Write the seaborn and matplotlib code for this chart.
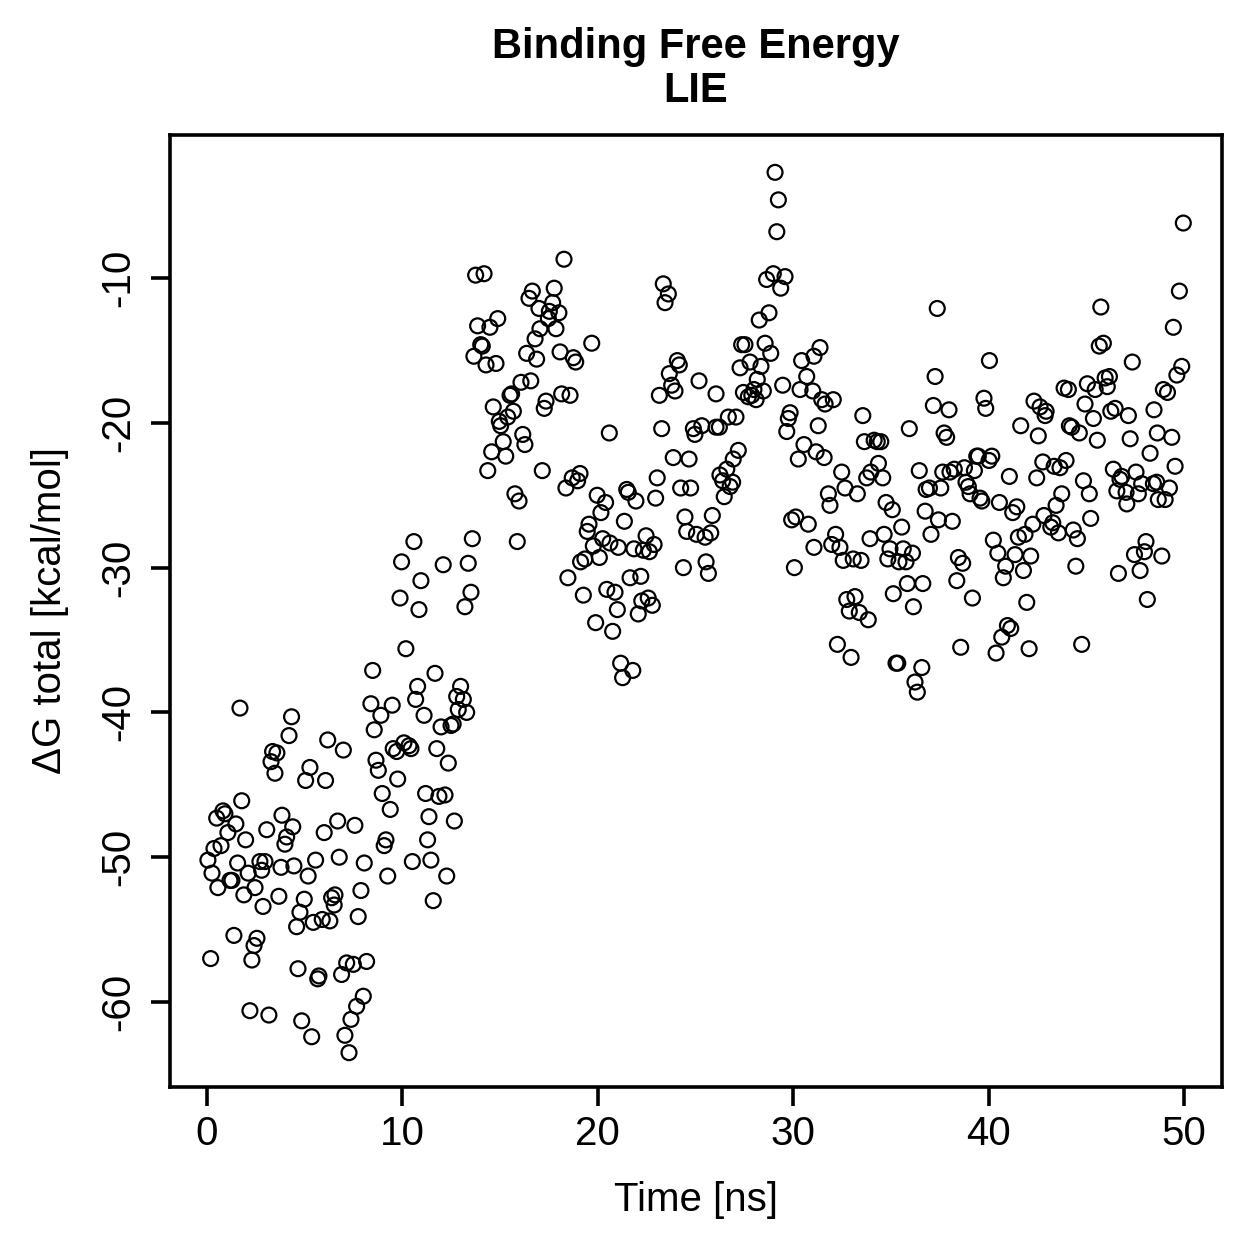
import numpy as np
import pandas as pd
import matplotlib
matplotlib.use("Agg")
import matplotlib.pyplot as plt
import seaborn as sns

# ---- data (time in ns, dG in kcal/mol) ----
time_ns = [
    # 0-5 ns
    1.69, 4.33, 4.20, 3.36, 3.58, 3.28, 3.48, 1.78, 0.82, 0.92, 0.50, 1.48, 3.84, 4.39, 3.06, 1.07,
    4.08, 1.98, 3.99, 0.72, 0.36, 0.05, 1.57, 2.71, 2.97, 2.80, 3.79, 4.45, 2.11, 0.26, 1.18, 1.28,
    0.56, 2.46, 1.89, 3.68, 2.87, 4.98, 4.76, 4.59, 1.38, 2.56, 2.41, 0.19, 2.30, 4.66, 2.20, 3.17, 4.85,
    # 5-10 ns
    8.48, 8.39, 9.48, 8.90, 8.56, 6.18, 6.98, 9.53, 9.71, 8.65, 8.77, 5.27, 5.05, 6.07, 9.76, 8.97,
    9.38, 6.69, 7.57, 6.00, 9.16, 9.07, 5.56, 6.77, 8.05, 5.18, 9.25, 6.55, 6.38, 6.51, 7.88, 5.44,
    5.90, 6.29, 7.74, 5.73, 5.67, 6.89, 7.15, 7.49, 8.17, 8.00, 7.66, 7.37, 5.36, 7.06, 7.27,
    # 10-14 ns
    10.59, 13.58, 9.96, 12.09, 13.37, 10.95, 9.88, 10.85, 13.51, 13.20, 10.18, 11.67, 10.78, 10.68,
    12.98, 12.78, 13.12, 12.86, 13.29, 11.11, 11.98, 12.49, 12.60, 10.08, 10.34, 10.44, 11.76, 12.35,
    11.19, 11.87, 12.18, 11.36, 12.66, 11.29, 10.51, 11.46, 12.27, 11.58,
    # 13-20 ns
    18.27, 13.75, 14.18, 16.65, 17.77, 16.48, 16.99, 17.69, 17.52, 18.01, 14.88, 13.85, 14.48, 17.47,
    17.04, 17.86, 16.79, 14.01, 14.09, 13.66, 14.28, 14.79, 16.36, 16.87, 18.07, 18.75, 18.87, 19.69,
    16.07, 16.57, 15.51, 15.59, 18.15, 18.58, 14.65, 17.35, 17.26, 15.68, 15.39, 14.96, 15.03, 16.16,
    16.27, 15.16, 14.57, 15.29, 14.37, 17.16, 18.69, 19.09, 18.97, 18.37, 15.76, 15.97, 15.88,
    # 18-25 ns
    24.07, 24.17, 23.66, 23.78, 23.95, 23.15, 20.59, 23.27, 23.86, 24.67, 21.48, 21.56, 21.95, 23.04,
    22.96, 24.24, 24.75, 19.97, 20.40, 20.16, 21.36, 24.46, 19.55, 19.46, 24.55, 20.25, 20.62, 21.05,
    19.77, 22.47, 22.88, 21.85, 22.33, 22.64, 20.08, 19.34, 19.12, 24.38, 18.47, 21.65, 22.20, 20.46,
    20.88, 19.26, 22.58, 22.25, 22.79, 21.00, 22.07, 19.89, 20.76, 21.17, 21.79, 21.27,
    23.35, 23.61, 23.44,
    # 25-31 ns
    29.07, 29.24, 29.16, 28.98, 28.64, 29.58, 29.36, 28.76, 28.26, 27.36, 27.53, 28.56, 28.85, 30.43,
    27.79, 27.28, 28.35, 30.69, 28.16, 25.18, 26.05, 27.45, 27.70, 27.88, 27.99, 28.10, 28.47, 29.46,
    30.35, 29.84, 29.75, 29.67, 30.55, 30.26, 26.68, 27.07, 24.89, 25.32, 24.97, 26.05, 26.22, 27.19,
    26.93, 26.60, 26.25, 26.39, 26.90, 26.77, 26.47, 25.86, 25.05, 25.49, 25.78, 25.54, 25.66, 30.06, 29.92,
    # 30-37 ns
    31.37, 31.06, 31.00, 31.46, 31.63, 32.05, 31.28, 33.56, 35.94, 31.17, 31.58, 33.64, 34.14, 34.30,
    34.48, 34.36, 33.97, 33.76, 34.58, 32.48, 36.45, 32.65, 33.28, 31.80, 31.88, 34.75, 35.07, 30.13,
    30.77, 35.55, 32.17, 31.97, 32.39, 33.93, 34.65, 31.06, 34.95, 35.63, 36.10, 34.84, 35.41, 35.77,
    32.56, 33.07, 33.47, 35.84, 36.63, 35.12, 36.15, 32.74, 33.16, 32.87, 33.38, 33.84, 32.26, 32.96,
    35.26, 35.35, 36.58, 36.23, 36.35,
    # 37-43 ns
    37.37, 40.04, 37.26, 37.17, 37.97, 39.76, 39.85, 42.32, 42.63, 42.94, 42.89, 41.64, 42.54, 37.72,
    37.85, 37.65, 38.02, 38.24, 38.76, 39.27, 39.39, 39.47, 40.02, 40.16, 41.06, 42.46, 42.77, 36.80,
    36.97, 37.55, 38.84, 38.96, 39.05, 39.56, 39.65, 40.55, 41.23, 41.44, 36.75, 37.43, 38.14, 37.05,
    42.83, 42.26, 41.52, 41.86, 40.24, 40.47, 41.35, 42.15, 40.87, 41.78, 40.75, 38.45, 38.67, 38.37,
    39.17, 41.95, 40.96, 41.13, 40.67, 38.57, 40.38, 42.07,
    # 43-50 ns
    49.96, 49.76, 45.74, 49.45, 45.66, 45.87, 47.35, 49.88, 49.63, 43.86, 44.08, 45.05, 45.45, 45.96,
    46.18, 46.07, 48.94, 49.15, 44.93, 45.36, 46.25, 46.47, 47.15, 48.46, 44.13, 44.25, 44.64, 45.56,
    47.24, 48.63, 49.37, 48.26, 49.54, 43.35, 43.65, 43.96, 44.85, 46.38, 46.81, 46.72, 47.54, 47.83,
    48.43, 48.60, 49.25, 46.56, 47.03, 47.66, 48.68, 49.03, 47.07, 43.74, 45.15, 43.45, 43.28, 43.18,
    43.57, 44.33, 44.54, 45.22, 48.05, 47.97, 47.46, 48.86, 44.46, 46.64, 47.75, 48.12, 44.76,
]

dg_total = [
    # 0-5 ns
    -39.7, -40.3, -41.6, -42.7, -42.8, -43.4, -44.2, -46.1, -46.8, -47.0, -47.3, -47.7, -47.1, -47.9, -48.1, -48.3,
    -48.6, -48.8, -49.1, -49.2, -49.4, -50.2, -50.4, -50.3, -50.3, -50.9, -50.7, -50.6, -51.1, -51.1, -51.6, -51.6,
    -52.1, -52.1, -52.6, -52.7, -53.4, -52.9, -53.8, -54.8, -55.4, -55.6, -56.1, -57.0, -57.1, -57.7, -60.6, -60.9, -61.3,
    # 5-10 ns
    -37.1, -39.4, -39.5, -40.2, -41.2, -41.9, -42.6, -42.5, -42.7, -43.3, -44.0, -43.8, -44.7, -44.7, -44.6, -45.6,
    -46.7, -47.5, -47.8, -48.3, -48.8, -49.2, -50.2, -50.0, -50.4, -51.3, -51.3, -52.6, -52.8, -53.3, -52.3, -54.5,
    -54.3, -54.4, -54.1, -58.2, -58.4, -58.1, -57.3, -57.4, -57.2, -59.6, -60.3, -61.2, -62.4, -62.3, -63.5,
    # 10-14 ns
    -28.2, -28.0, -29.6, -29.8, -29.7, -30.9, -32.1, -32.9, -31.7, -32.7, -35.6, -37.3, -38.2, -39.1,
    -38.2, -38.9, -39.1, -39.8, -40.0, -40.2, -41.0, -40.9, -40.8, -42.1, -42.3, -42.5, -42.5, -43.5,
    -45.6, -45.8, -45.7, -47.2, -47.5, -48.8, -50.3, -50.2, -51.3, -53.0,
    # 13-20 ns
    -8.7, -9.8, -9.7, -10.9, -10.7, -11.4, -12.1, -11.7, -12.3, -12.4, -12.8, -13.3, -13.4, -12.8,
    -13.5, -13.5, -14.2, -14.6, -14.7, -15.4, -16.0, -15.9, -15.2, -15.6, -15.1, -15.5, -15.8, -14.5,
    -17.2, -17.1, -18.1, -18.0, -18.0, -18.1, -18.9, -18.5, -19.0, -19.2, -19.6, -19.9, -20.2, -20.8,
    -21.5, -21.3, -22.0, -22.3, -23.3, -23.3, -23.8, -23.5, -24.0, -24.5, -24.9, -25.4, -28.2,
    # 18-25 ns
    -15.7, -16.0, -16.6, -17.4, -17.8, -18.1, -20.7, -20.4, -22.4, -22.5, -24.6, -24.8, -25.4, -23.8,
    -25.2, -24.5, -24.5, -25.0, -25.5, -26.2, -26.8, -26.5, -27.0, -27.5, -27.5, -28.0, -28.3, -28.6,
    -28.5, -27.8, -28.4, -28.7, -28.8, -28.9, -29.3, -29.4, -29.6, -30.0, -30.7, -30.7, -30.6, -31.5,
    -31.7, -31.9, -32.1, -32.3, -32.6, -32.9, -33.2, -33.8, -34.4, -36.6, -37.1, -37.6,
    -10.4, -11.1, -11.7,
    # 25-31 ns
    -2.7, -4.6, -6.8, -9.7, -10.1, -9.9, -10.7, -12.4, -12.9, -14.6, -14.6, -14.5, -15.2, -15.7,
    -15.8, -16.2, -16.1, -16.8, -17.0, -17.1, -18.0, -17.9, -18.2, -18.1, -17.7, -18.4, -17.8, -17.4,
    -17.7, -19.3, -19.7, -20.6, -21.5, -22.5, -19.6, -19.6, -20.4, -20.2, -20.8, -20.3, -20.3, -21.9,
    -22.5, -23.2, -23.6, -24.0, -24.1, -24.4, -25.1, -26.4, -27.7, -27.9, -27.6, -29.6, -30.4, -30.0, -26.7,
    # 30-37 ns
    -14.8, -15.4, -17.8, -18.4, -18.7, -18.4, -20.2, -19.5, -20.4, -22.0, -22.4, -21.3, -21.2, -21.3,
    -21.3, -22.8, -23.4, -23.8, -23.8, -23.4, -23.3, -24.5, -24.9, -24.9, -25.7, -25.5, -26.0, -26.5,
    -27.0, -27.2, -27.7, -28.4, -28.6, -28.0, -27.7, -28.6, -28.7, -28.7, -29.0, -29.4, -29.6, -29.6,
    -29.5, -29.4, -29.5, -31.1, -31.1, -31.8, -32.7, -32.2, -32.0, -33.0, -33.1, -33.6, -35.3, -36.2,
    -36.6, -36.6, -36.9, -37.9, -38.6,
    # 37-43 ns
    -12.1, -15.7, -16.8, -18.8, -19.1, -18.3, -19.0, -18.5, -18.9, -19.2, -19.5, -20.2, -20.9, -20.7,
    -21.0, -23.4, -23.4, -23.2, -23.1, -23.3, -22.3, -22.3, -22.6, -22.3, -23.7, -23.8, -22.7, -24.6,
    -24.5, -24.5, -24.1, -24.4, -24.9, -25.2, -25.4, -25.5, -26.2, -25.8, -26.1, -26.7, -26.8, -27.7,
    -26.4, -27.0, -27.9, -27.7, -28.1, -29.0, -29.1, -29.2, -29.9, -30.2, -30.7, -29.3, -29.7, -30.9,
    -32.1, -32.4, -34.0, -34.2, -34.8, -35.5, -35.9, -35.6,
    # 43-50 ns
    -6.2, -10.9, -12.0, -13.4, -14.7, -14.5, -15.8, -16.1, -16.7, -17.6, -17.7, -17.3, -17.7, -16.9,
    -16.8, -17.5, -17.7, -17.9, -18.7, -19.7, -19.2, -19.0, -19.5, -19.1, -20.2, -20.3, -20.7, -21.2,
    -21.1, -20.7, -21.0, -22.1, -23.0, -23.0, -23.1, -22.6, -24.0, -23.2, -23.7, -23.9, -23.4, -24.2,
    -24.2, -24.1, -24.5, -24.7, -24.8, -24.9, -25.3, -25.3, -25.6, -24.9, -24.9, -25.7, -26.9, -27.2,
    -27.6, -27.4, -28.0, -26.6, -28.2, -28.9, -29.1, -29.2, -29.9, -30.4, -30.2, -32.2, -35.3,
]

x_ticks = [0, 10, 20, 30, 40, 50]
y_ticks = [-60, -50, -40, -30, -20, -10]
title_text = "Binding Free Energy\nLIE"
x_label = "Time [ns]"
y_label = "\u0394G total [kcal/mol]"

df = pd.DataFrame({"time": time_ns, "dg": dg_total}).sort_values("time")

sns.set_style("ticks")
plt.rcParams["font.family"] = ["Liberation Sans", "DejaVu Sans"]
plt.rcParams["text.color"] = "black"
plt.rcParams["axes.labelcolor"] = "black"
plt.rcParams["xtick.color"] = "black"
plt.rcParams["ytick.color"] = "black"

fig = plt.figure(figsize=(12.59, 12.59), dpi=100)
ax = fig.add_axes([170 / 1259, 1 - 1087 / 1259, (1222 - 170) / 1259, (1087 - 135) / 1259])

sns.scatterplot(data=df, x="time", y="dg", ax=ax, marker="o", s=115,
                color="black", facecolor="none", edgecolor="black", linewidth=1.6)

ax.set_xlim(-1.89, 51.94)
ax.set_ylim(-65.87, -0.12)
ax.set_xticks(x_ticks)
ax.set_yticks(y_ticks)
ax.set_xticklabels([str(v) for v in x_ticks])
ax.set_yticklabels([str(v) for v in y_ticks], rotation=90, va="center")

for sp in ax.spines.values():
    sp.set_visible(True)
    sp.set_color("black")
    sp.set_linewidth(2.6)

ax.tick_params(axis="both", which="major", length=13.5, width=2.6, color="black",
               labelsize=29, labelcolor="black", direction="out")
ax.tick_params(axis="x", pad=7)
ax.tick_params(axis="y", pad=10)

ax.set_xlabel(x_label, fontsize=29, labelpad=20, color="black")
ax.set_ylabel(y_label, fontsize=29, labelpad=22, color="black")
ax.set_title(title_text, fontsize=30, fontweight="bold", pad=24, linespacing=1.12,
             color="black")

fig.savefig("out.png", dpi=100, facecolor="white")
